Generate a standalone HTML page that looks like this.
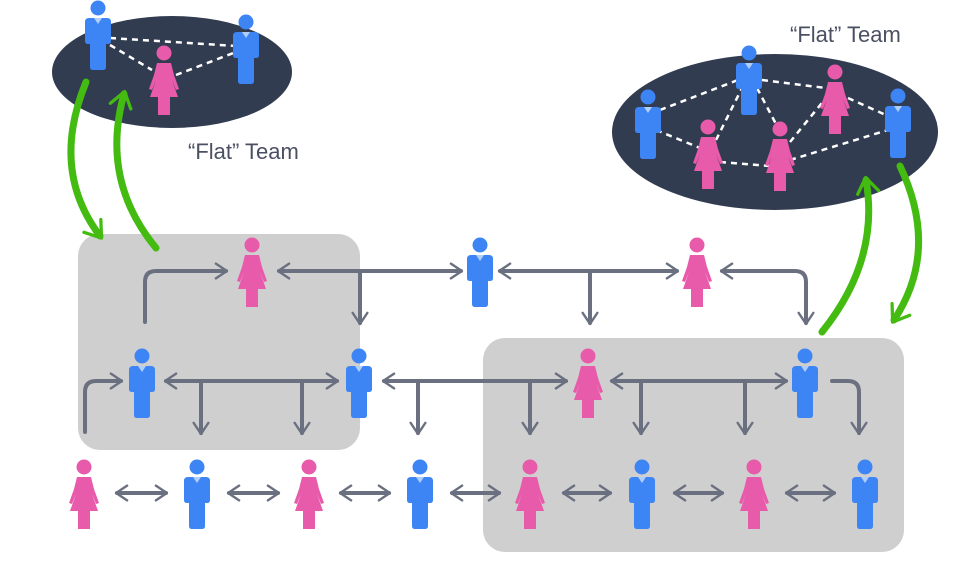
<!DOCTYPE html>
<html><head><meta charset="utf-8"><style>
html,body{margin:0;padding:0;background:#fff;}
svg{display:block;}
text{font-family:"Liberation Sans",sans-serif;}
</style></head><body>
<svg width="955" height="581" viewBox="0 0 955 581" xmlns="http://www.w3.org/2000/svg">
<defs>
<g id="man" fill="#3d85f5">
  <circle cx="0" cy="0" r="7.5"/>
  <path d="M-13,14 Q-13,10 -9,10 L9,10 Q13,10 13,14 L13,33 Q13,36 10,36 L8,36 L8,59 Q8,62 5,62 L-5,62 Q-8,62 -8,59 L-8,36 L-10,36 Q-13,36 -13,33 Z"/>
  <path d="M-4,10 L0,16 L4,10 Z" fill="#ffffff" opacity="0.6"/>
</g>
<g id="woman" fill="#e85aaa">
  <circle cx="0" cy="0" r="7.5"/>
  <path d="M-7,10 L7,10 L10,22 L15,36 L12,37 L8,27 L14,44 L6,44 L6,62 L-6,62 L-6,44 L-14,44 L-8,27 L-12,37 L-15,36 L-10,22 Z"/>
</g>
<marker id="ah" viewBox="0 0 10 10" refX="7" refY="5" markerWidth="4.6" markerHeight="4.6" orient="auto-start-reverse" markerUnits="strokeWidth">
  <path d="M1.5,1 L7.5,5 L1.5,9" fill="none" stroke="#6b7080" stroke-width="1.3" stroke-linecap="round" stroke-linejoin="round"/>
</marker>
<marker id="gh" viewBox="0 0 10 10" refX="6" refY="5" markerWidth="3.6" markerHeight="3.6" orient="auto" markerUnits="strokeWidth">
  <path d="M1,0.8 L7,5 L1,9.2" fill="none" stroke="#44bb11" stroke-width="1.3" stroke-linecap="round" stroke-linejoin="round"/>
</marker>
</defs>

<rect x="78" y="234" width="282" height="216" rx="22" fill="#cfcfcf"/>
<rect x="483" y="338" width="421" height="214" rx="22" fill="#cfcfcf"/>

<ellipse cx="172" cy="72" rx="120" ry="56" fill="#323c50"/>
<ellipse cx="775" cy="132" rx="163" ry="78" fill="#323c50"/>

<g stroke="#ffffff" stroke-width="2.5" stroke-dasharray="6,5" fill="none">
  <line x1="110" y1="38" x2="236" y2="46"/>
  <line x1="110" y1="45" x2="152" y2="70"/>
  <line x1="176" y1="75" x2="236" y2="52"/>
  <line x1="660" y1="110" x2="738" y2="80"/>
  <line x1="656" y1="130" x2="700" y2="148"/>
  <line x1="716" y1="140" x2="742" y2="88"/>
  <line x1="757" y1="88" x2="776" y2="124"/>
  <line x1="762" y1="80" x2="826" y2="88"/>
  <line x1="720" y1="162" x2="770" y2="166"/>
  <line x1="790" y1="142" x2="826" y2="98"/>
  <line x1="790" y1="160" x2="888" y2="130"/>
  <line x1="848" y1="98" x2="888" y2="116"/>
</g>

<use href="#man" x="98" y="8"/>
<use href="#woman" x="164" y="53"/>
<use href="#man" x="246" y="22"/>
<use href="#man" x="648" y="97"/>
<use href="#man" x="749" y="53"/>
<use href="#woman" x="708" y="127"/>
<use href="#woman" x="780" y="129"/>
<use href="#woman" x="835" y="72"/>
<use href="#man" x="898" y="96"/>

<text x="188" y="159" font-size="22" fill="#4a5062">“Flat” Team</text>
<text x="790" y="42" font-size="22" fill="#4a5062">“Flat” Team</text>

<g stroke="#6b7080" stroke-width="4" fill="none" stroke-linecap="round" stroke-linejoin="round">
  <path d="M145,322 L145,282 Q145,271 156,271 L226,271" marker-end="url(#ah)"/>
  <path d="M279,271 L461,271" marker-start="url(#ah)" marker-end="url(#ah)"/>
  <path d="M360,271 L360,323" marker-end="url(#ah)"/>
  <path d="M500,271 L677,271" marker-start="url(#ah)" marker-end="url(#ah)"/>
  <path d="M590,271 L590,323" marker-end="url(#ah)"/>
  <path d="M722,271 L795,271 Q806,271 806,282 L806,323" marker-start="url(#ah)" marker-end="url(#ah)"/>
  <path d="M85,432 L85,392 Q85,381 96,381 L121,381" marker-end="url(#ah)"/>
  <path d="M166,381 L337,381" marker-start="url(#ah)" marker-end="url(#ah)"/>
  <path d="M201,381 L201,433" marker-end="url(#ah)"/>
  <path d="M302,381 L302,433" marker-end="url(#ah)"/>
  <path d="M384,381 L566,381" marker-start="url(#ah)" marker-end="url(#ah)"/>
  <path d="M418,381 L418,433" marker-end="url(#ah)"/>
  <path d="M530,381 L530,433" marker-end="url(#ah)"/>
  <path d="M612,381 L786,381" marker-start="url(#ah)" marker-end="url(#ah)"/>
  <path d="M641,381 L641,433" marker-end="url(#ah)"/>
  <path d="M745,381 L745,433" marker-end="url(#ah)"/>
  <path d="M832,381 L848,381 Q859,381 859,392 L859,433" marker-end="url(#ah)"/>
  <path d="M117,493 L166,493" marker-start="url(#ah)" marker-end="url(#ah)"/>
  <path d="M229,493 L278,493" marker-start="url(#ah)" marker-end="url(#ah)"/>
  <path d="M341,493 L389,493" marker-start="url(#ah)" marker-end="url(#ah)"/>
  <path d="M452,493 L499,493" marker-start="url(#ah)" marker-end="url(#ah)"/>
  <path d="M564,493 L610,493" marker-start="url(#ah)" marker-end="url(#ah)"/>
  <path d="M675,493 L722,493" marker-start="url(#ah)" marker-end="url(#ah)"/>
  <path d="M787,493 L834,493" marker-start="url(#ah)" marker-end="url(#ah)"/>
</g>

<use href="#woman" x="252" y="245"/>
<use href="#man" x="480" y="245"/>
<use href="#woman" x="697" y="245"/>
<use href="#man" x="142" y="356"/>
<use href="#man" x="359" y="356"/>
<use href="#woman" x="588" y="356"/>
<use href="#man" x="805" y="356"/>
<use href="#woman" x="84" y="467"/>
<use href="#man" x="197" y="467"/>
<use href="#woman" x="309" y="467"/>
<use href="#man" x="420" y="467"/>
<use href="#woman" x="530" y="467"/>
<use href="#man" x="642" y="467"/>
<use href="#woman" x="754" y="467"/>
<use href="#man" x="865" y="467"/>

<g stroke="#44bb11" stroke-width="7" fill="none" stroke-linecap="round">
  <path d="M86,82 Q50,170 100,236" marker-end="url(#gh)"/>
  <path d="M156,248 Q100,180 124,94" marker-end="url(#gh)"/>
  <path d="M822,332 Q880,260 866,180" marker-end="url(#gh)"/>
  <path d="M900,166 Q940,250 894,320" marker-end="url(#gh)"/>
</g>
</svg>
</body></html>
